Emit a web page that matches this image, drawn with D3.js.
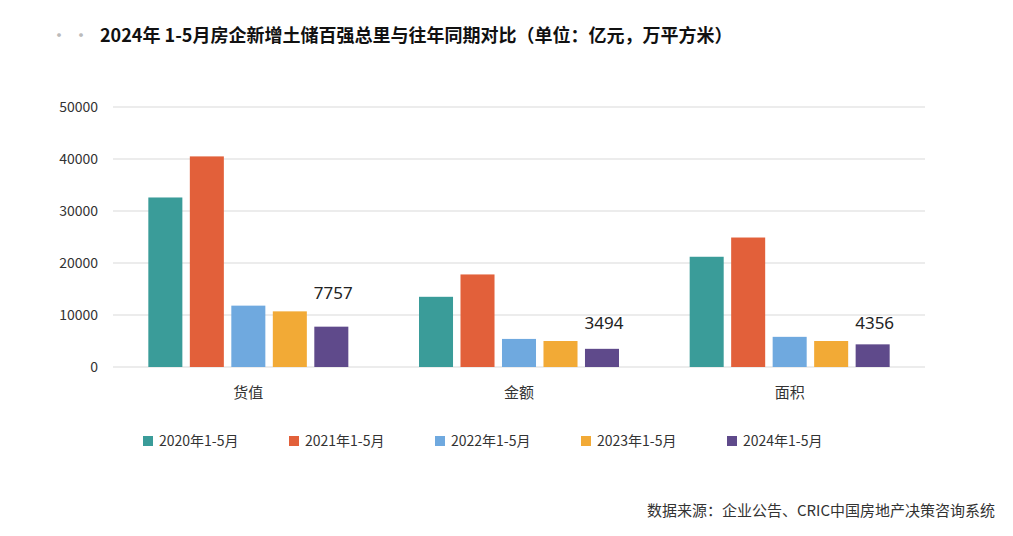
<!DOCTYPE html>
<html>
<head>
<meta charset="utf-8">
<script src="https://cdn.jsdelivr.net/npm/d3@7"></script>
<style>
body { margin: 0; background: #fff; font-family: "Noto Sans CJK SC", "Noto Sans", sans-serif; }
</style>
</head>
<body>
<svg id="chart" width="1013" height="536"></svg>
<script>
var categories = ["货值", "金额", "面积"];
var seriesNames = ["2020年1-5月", "2021年1-5月", "2022年1-5月", "2023年1-5月", "2024年1-5月"];
var v2020 = [32600, 13500, 21200];
var v2021 = [40500, 17800, 24900];
var v2022 = [11800, 5400, 5800];
var v2023 = [10700, 5000, 5000];
var v2024 = [7757, 3494, 4356];
var yTicks = [0, 10000, 20000, 30000, 40000, 50000];
var colors = ["#3a9c99", "#e2603a", "#6fa9df", "#f2aa36", "#5f4a8b"];

var series = [v2020, v2021, v2022, v2023, v2024];
var svg = d3.select("#chart");

var x = d3.scaleBand().domain(categories).range([113, 925]);
var xi = d3.scaleBand().domain(d3.range(5)).range([0, 200]).paddingInner(0.18);
var y = d3.scaleLinear().domain([0, 50000]).range([367, 107]);

// gridlines
svg.append("g").selectAll("line").data(yTicks).enter().append("line")
    .attr("x1", 113).attr("x2", 925)
    .attr("y1", function(d) { return y(d); }).attr("y2", function(d) { return y(d); })
    .attr("stroke", "#d9d9d9").attr("stroke-width", 1);

svg.append("g").selectAll("text").data(yTicks).enter().append("text")
    .attr("x", 98).attr("y", function(d) { return y(d) + 5; })
    .attr("text-anchor", "end").attr("font-size", 14).attr("fill", "#333")
    .text(function(d) { return d; });

// bars
categories.forEach(function(c, ci) {
  var g = svg.append("g").attr("transform", "translate(" + (x(c) + (x.bandwidth() - 200) / 2) + ",0)");
  series.forEach(function(s, si) {
    g.append("rect")
        .attr("x", xi(si)).attr("width", xi.bandwidth())
        .attr("y", y(s[ci])).attr("height", y(0) - y(s[ci]))
        .attr("fill", colors[si]);
  });
  g.append("text")
      .attr("x", xi(4) + xi.bandwidth() / 2 + 2)
      .attr("y", y(v2023[ci]) - 12)
      .attr("text-anchor", "middle").attr("font-size", 17).attr("fill", "#222")
      .attr("font-family", "Noto Sans, sans-serif")
      .text(v2024[ci]);
  svg.append("text")
      .attr("x", x(c) + x.bandwidth() / 2).attr("y", 398)
      .attr("text-anchor", "middle").attr("font-size", 15).attr("fill", "#333")
      .text(c);
});

// legend
var lg = svg.append("g").selectAll("g").data(seriesNames).enter().append("g")
    .attr("transform", function(d, i) { return "translate(" + (143 + i * 146) + ",436)"; });
lg.append("rect").attr("x", 0).attr("y", 0).attr("width", 10).attr("height", 10)
    .attr("fill", function(d, i) { return colors[i]; });
lg.append("text").attr("x", 16).attr("y", 10).attr("font-size", 14).attr("fill", "#333")
    .text(function(d) { return d; });

// title
svg.append("text").attr("x", 100).attr("y", 42).attr("font-size", 18).attr("font-weight", "bold")
    .attr("fill", "#111")
    .text("2024年 1-5月房企新增土储百强总里与往年同期对比（单位：亿元，万平方米）");
svg.append("text").attr("x", 50).attr("y", 42).attr("font-size", 18).attr("fill", "#bbb").text("· ·");

// source
svg.append("text").attr("x", 995).attr("y", 516).attr("text-anchor", "end")
    .attr("font-size", 15).attr("fill", "#333")
    .text("数据来源：企业公告、CRIC中国房地产决策咨询系统");
</script>
</body>
</html>
